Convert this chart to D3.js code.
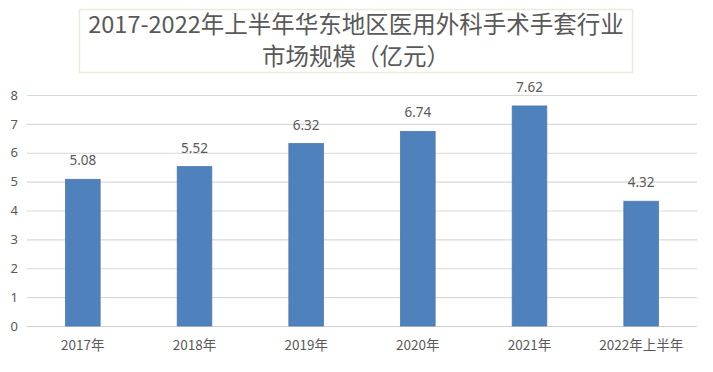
<!DOCTYPE html>
<html>
<head>
<meta charset="utf-8">
<script src="https://cdn.jsdelivr.net/npm/d3@7"></script>
<style>
  body { margin: 0; background: #fff; }
  text { font-family: "Noto Sans CJK SC", "Noto Sans", sans-serif; }
</style>
</head>
<body>
<svg id="chart" width="713" height="372"></svg>
<script>
// chart data
var categories = ["2017年", "2018年", "2019年", "2020年", "2021年", "2022年上半年"];
var values = [5.08, 5.52, 6.32, 6.74, 7.62, 4.32];
var yTicks = [0, 1, 2, 3, 4, 5, 6, 7, 8];
var titleLines = ["2017-2022年上半年华东地区医用外科手术手套行业", "市场规模（亿元）"];

var svg = d3.select("#chart");
var margin = {left: 27, right: 16, top: 95, bottom: 46};
var width = 713, height = 372;

var x = d3.scaleBand()
  .domain(categories)
  .range([margin.left, width - margin.right])
  .paddingInner(0.69)
  .paddingOuter(0.345);

var y = d3.scaleLinear()
  .domain([0, 8])
  .range([height - margin.bottom, margin.top]);

// gridlines
svg.append("g")
  .selectAll("line")
  .data(yTicks)
  .enter().append("line")
  .attr("x1", margin.left)
  .attr("x2", width - margin.right)
  .attr("y1", function (d) { return y(d) + 0.5; })
  .attr("y2", function (d) { return y(d) + 0.5; })
  .attr("stroke", function (d) { return d === 0 ? "#d0d0d0" : "#d9d9d9"; })
  .attr("stroke-width", 1.2);

// y axis labels
var yAxis = d3.axisLeft(y).tickValues(yTicks).tickSize(0).tickPadding(0);
var yg = svg.append("g")
  .attr("transform", "translate(18,0)")
  .call(yAxis);
yg.select(".domain").remove();
yg.selectAll("text")
  .attr("fill", "#595959")
  .style("font-size", "13px")
  .style("font-family", "'Noto Sans', sans-serif");

// x axis labels
var xAxis = d3.axisBottom(x).tickSize(0).tickPadding(0);
var xg = svg.append("g")
  .attr("transform", "translate(0," + (y(0) + 14) + ")")
  .call(xAxis);
xg.select(".domain").remove();
xg.selectAll("text")
  .attr("fill", "#595959")
  .style("font-size", "13.5px");

// bars
svg.append("g")
  .selectAll("rect")
  .data(values)
  .enter().append("rect")
  .attr("x", function (d, i) { return x(categories[i]); })
  .attr("width", x.bandwidth())
  .attr("y", function (d) { return y(d); })
  .attr("height", function (d) { return y(0) - y(d); })
  .attr("fill", "#4f81bd")
  .attr("stroke", "#4a7ab5")
  .attr("stroke-width", 0.8);

// value labels
svg.append("g")
  .selectAll("text")
  .data(values)
  .enter().append("text")
  .attr("x", function (d, i) { return x(categories[i]) + x.bandwidth() / 2; })
  .attr("y", function (d) { return y(d) - 14; })
  .attr("text-anchor", "middle")
  .attr("fill", "#595959")
  .style("font-size", "13.5px")
  .style("font-family", "'Noto Sans', sans-serif")
  .text(function (d) { return d.toFixed(2); });

// title box
svg.append("rect")
  .attr("x", 79.5)
  .attr("y", 9.5)
  .attr("width", 553)
  .attr("height", 63)
  .attr("fill", "#fff")
  .attr("stroke", "#ebebdc")
  .attr("stroke-width", 1.5);

svg.append("g")
  .selectAll("text")
  .data(titleLines)
  .enter().append("text")
  .attr("x", 356)
  .attr("y", function (d, i) { return 33 + i * 32; })
  .attr("text-anchor", "middle")
  .attr("fill", "#595959")
  .style("font-size", "23.5px")
  .text(function (d) { return d; });
</script>
</body>
</html>
